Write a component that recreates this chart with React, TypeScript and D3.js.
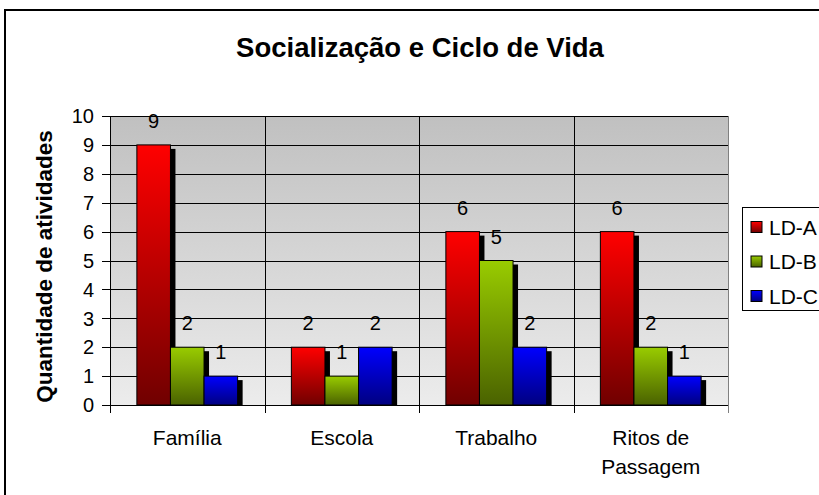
import React from "react";
import * as d3 from "d3";

const categories = ["Família", "Escola", "Trabalho", "Ritos de Passagem"];
const categoryLines = [["Família"], ["Escola"], ["Trabalho"], ["Ritos de", "Passagem"]];
const seriesNames = ["LD-A", "LD-B", "LD-C"];
const ldA = [9, 2, 6, 6];
const ldB = [2, 1, 5, 2];
const ldC = [1, 2, 2, 1];
const yTicks = [0, 1, 2, 3, 4, 5, 6, 7, 8, 9, 10];
const title = "Socialização e Ciclo de Vida";
const yTitle = "Quantidade de atividades";

const seriesValues = [ldA, ldB, ldC];
const gradTop = ["#ff0000", "#99cc00", "#0000ff"];
const gradBottom = ["#700000", "#4a6200", "#000080"];

const W = 819;
const H = 495;
const plot = { left: 110, right: 728, top: 116, bottom: 405 };
const FONT = "'Liberation Sans', Arial, sans-serif";

export default function App() {
  const x = d3.scaleBand<string>().domain(categories).range([plot.left, plot.right]).padding(0);
  const inner = d3
    .scaleBand<string>()
    .domain(seriesNames)
    .range([0, x.bandwidth()])
    .paddingInner(0)
    .paddingOuter(0.8);
  const y = d3.scaleLinear().domain([0, 10]).range([plot.bottom, plot.top]);
  const bw = inner.bandwidth();

  return (
    <svg
      width={W}
      height={H}
      style={{ position: "absolute", left: 0, top: 0, display: "block" }}
      fontFamily={FONT}
    >
      <defs>
        <linearGradient id="bg" x1="0" y1="0" x2="0" y2="1">
          <stop offset="0" stopColor="#c0c0c0" />
          <stop offset="1" stopColor="#ececec" />
        </linearGradient>
        {seriesNames.map((s, i) => (
          <linearGradient key={s} id={`g${i}`} x1="0" y1="0" x2="0" y2="1">
            <stop offset="0" stopColor={gradTop[i]} />
            <stop offset="1" stopColor={gradBottom[i]} />
          </linearGradient>
        ))}
      </defs>
      <rect x={0} y={0} width={W} height={H} fill="#ffffff" />
      <rect x={5} y={10} width={W + 20} height={H + 20} fill="#ffffff" stroke="#000" strokeWidth={2} />

      <text x={420} y={57} textAnchor="middle" fontSize={27.5} fontWeight="bold">
        {title}
      </text>

      {/* plot background */}
      <rect
        x={plot.left}
        y={plot.top}
        width={plot.right - plot.left}
        height={plot.bottom - plot.top}
        fill="url(#bg)"
      />
      {/* horizontal gridlines */}
      {yTicks.map((t) => (
        <line
          key={`h${t}`}
          x1={plot.left}
          x2={plot.right}
          y1={Math.round(y(t)) + 0.5}
          y2={Math.round(y(t)) + 0.5}
          stroke="#000"
          strokeWidth={1}
        />
      ))}
      {/* vertical gridlines */}
      {categories.map((c, i) =>
        i === 0 ? null : (
          <line
            key={`v${c}`}
            x1={Math.round(x(c)!) + 0.5}
            x2={Math.round(x(c)!) + 0.5}
            y1={plot.top}
            y2={plot.bottom + 8}
            stroke="#000"
            strokeWidth={1}
          />
        )
      )}
      <line
        x1={plot.right + 0.5}
        x2={plot.right + 0.5}
        y1={plot.top}
        y2={plot.bottom + 8}
        stroke="#808080"
        strokeWidth={1}
      />
      <line
        x1={plot.left + 0.5}
        x2={plot.left + 0.5}
        y1={plot.top}
        y2={plot.bottom + 8}
        stroke="#000"
        strokeWidth={1}
      />
      {/* y ticks */}
      {yTicks.map((t) => (
        <g key={`t${t}`}>
          <line
            x1={plot.left - 8}
            x2={plot.left}
            y1={Math.round(y(t)) + 0.5}
            y2={Math.round(y(t)) + 0.5}
            stroke="#000"
          />
          <text x={plot.left - 16} y={y(t)} dy="0.36em" textAnchor="end" fontSize={20}>
            {t}
          </text>
        </g>
      ))}

      <text
        transform={`translate(52, ${(plot.top + plot.bottom) / 2 + 6}) rotate(-90)`}
        textAnchor="middle"
        fontSize={22.5}
        fontWeight="bold"
      >
        {yTitle}
      </text>

      {/* bar shadows */}
      {categories.map((c, ci) =>
        seriesNames.map((s, si) => {
          const v = seriesValues[si][ci];
          const bx = x(c)! + inner(s)!;
          const by = y(v);
          return (
            <rect
              key={`${c}-${s}`}
              x={bx + 5}
              y={by + 4}
              width={bw}
              height={plot.bottom - by - 4}
              fill="#000"
            />
          );
        })
      )}
      {/* bars and labels */}
      {categories.map((c, ci) =>
        seriesNames.map((s, si) => {
          const v = seriesValues[si][ci];
          const bx = x(c)! + inner(s)!;
          const by = y(v);
          return (
            <g key={`b${c}-${s}`}>
              <rect
                x={bx}
                y={by}
                width={bw}
                height={plot.bottom - by}
                fill={`url(#g${si})`}
                stroke="#000"
                strokeWidth={1}
              />
              <text x={bx + bw / 2} y={by - 17} textAnchor="middle" fontSize={20}>
                {v}
              </text>
            </g>
          );
        })
      )}

      {/* category labels */}
      {categories.map((c, ci) => (
        <text key={`c${c}`} x={x(c)! + x.bandwidth() / 2} y={445} textAnchor="middle" fontSize={21}>
          {categoryLines[ci].map((ln, li) => (
            <tspan key={li} x={x(c)! + x.bandwidth() / 2} dy={li === 0 ? 0 : 29}>
              {ln}
            </tspan>
          ))}
        </text>
      ))}

      {/* legend */}
      <rect x={742.5} y={207.5} width={100} height={103} fill="#fff" stroke="#000" strokeWidth={1} />
      {seriesNames.map((s, i) => (
        <g key={`l${s}`} transform={`translate(0, ${227 + i * 34.5})`}>
          <rect x={751} y={-5.5} width={11} height={11} fill={`url(#g${i})`} stroke="#000" />
          <text x={769} y={0} dy="0.36em" fontSize={21}>
            {s}
          </text>
        </g>
      ))}
    </svg>
  );
}
